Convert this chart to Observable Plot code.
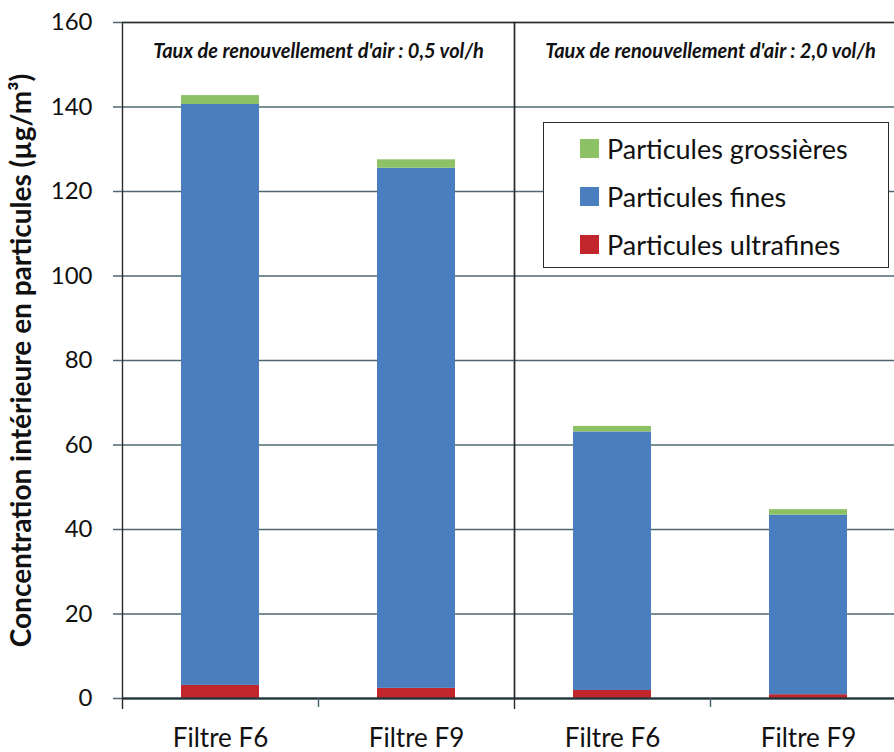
<!DOCTYPE html>
<html>
<head>
<meta charset="utf-8">
<script src="https://cdn.jsdelivr.net/npm/d3@7"></script>
<script src="https://cdn.jsdelivr.net/npm/@observablehq/plot@0.6"></script>
<style>
  body { margin: 0; background: #fff; }
  #wrap { position: relative; width: 894px; height: 752px; overflow: hidden; background: #fff; }
  #wrap svg { overflow: hidden; }
  g[aria-label="y-axis label"] text { font-weight: bold; font-size: 28px; }
  #legend {
    position: absolute; left: 543px; top: 122px; width: 346px; height: 146px;
    border: 1.5px solid #2b2b2b; background: #fff; box-sizing: border-box;
    font-family: Lato, "Open Sans", sans-serif; font-size: 27px; color: #111;
    padding-top: 1px;
  }
  .row { height: 48px; display: flex; align-items: center; }
  .sw { width: 19px; height: 19px; margin-left: 36px; margin-right: 8px; }
</style>
</head>
<body>
<div id="wrap"></div>
<script>
// ---- data ----
const groups = ["0,5 vol/h", "0,5 vol/h", "2,0 vol/h", "2,0 vol/h"];
const filtres = ["Filtre F6", "Filtre F9", "Filtre F6", "Filtre F9"];
const series = ["Particules ultrafines", "Particules fines", "Particules grossières"];
const ultrafines = [3.1, 2.4, 1.9, 0.9];
const fines = [137.5, 123.1, 61.2, 42.5];
const grossieres = [2.1, 2.0, 1.3, 1.3];
const seriesColors = ["#C0262C", "#4A7EBE", "#8DC166"];
const yTicks = [0, 20, 40, 60, 80, 100, 120, 140, 160];
const groupDomain = ["0,5 vol/h", "2,0 vol/h"];
const filtreDomain = ["Filtre F6", "Filtre F9"];
const titlePrefix = "Taux de renouvellement d'air : ";
const yLabel = "Concentration intérieure en particules (µg/m³)";
const legendOrder = ["Particules grossières", "Particules fines", "Particules ultrafines"];

// ---- table ----
const valuesBySeries = [ultrafines, fines, grossieres];
const table = [];
series.forEach((s, si) => {
  filtres.forEach((f, i) => {
    table.push({group: groups[i], filtre: f, serie: s, value: valuesBySeries[si][i]});
  });
});

const W = 894, H = 752, mL = 122, mR = -12, mT = 22, mB = 54;
const facetW = (W - mL - mR) / groupDomain.length;
const gridColor = "#4f6770";
const axisColor = "#1e3238";

const chart = Plot.plot({
  width: W, height: H,
  marginLeft: mL, marginRight: mR, marginTop: mT, marginBottom: mB,
  style: {fontFamily: "Lato, 'Open Sans', sans-serif", fontSize: "22px", color: "#111", background: "#fff"},
  fx: {domain: groupDomain, padding: 0, axis: null},
  x: {domain: filtreDomain, paddingInner: 0.6, paddingOuter: 0.3, axis: null},
  y: {domain: [0, 160], axis: null},
  color: {domain: series, range: seriesColors},
  marks: [
    Plot.ruleY(yTicks, {stroke: gridColor, strokeWidth: 1.5}),
    Plot.barY(table, {fx: "group", x: "filtre", y: "value", fill: "serie"}),
    Plot.frame({stroke: "#2a2a2a", strokeWidth: 1.4}),
    Plot.ruleY([0], {stroke: axisColor, strokeWidth: 2}),
    // category boundary ticks below the axis
    Plot.ruleX([0], {x: null, y1: 0, y2: 0, insetBottom: -9, stroke: gridColor, strokeWidth: 1.5}),
    Plot.ruleX([0], {x: null, y1: 0, y2: 0, insetBottom: -11, dx: -facetW / 2, stroke: "#2a2a2a", strokeWidth: 1.4}),
    Plot.axisY({
      ticks: yTicks, tickSize: 9, tickPadding: 21, stroke: gridColor, strokeWidth: 1.5,
      fontSize: 24, label: yLabel, labelAnchor: "center", labelOffset: 111, labelArrow: "none"
    }),
    Plot.axisX({tickSize: 0, tickPadding: 30, fontSize: 26, label: null}),
    Plot.text(groupDomain, {
      fx: d => d, text: d => titlePrefix + d, frameAnchor: "top", dy: 21,
      fontWeight: "bold", fontStyle: "italic", fontSize: 20, fill: "#111"
    })
  ]
});
const wrap = document.getElementById("wrap");
wrap.appendChild(chart);

// ---- legend ----
const colorOf = Object.fromEntries(series.map((s, i) => [s, seriesColors[i]]));
const legend = document.createElement("div");
legend.id = "legend";
legendOrder.forEach(s => {
  const row = document.createElement("div");
  row.className = "row";
  const sw = document.createElement("span");
  sw.className = "sw";
  sw.style.background = colorOf[s];
  const t = document.createElement("span");
  t.textContent = s;
  row.appendChild(sw); row.appendChild(t);
  legend.appendChild(row);
});
wrap.appendChild(legend);
</script>
</body>
</html>
